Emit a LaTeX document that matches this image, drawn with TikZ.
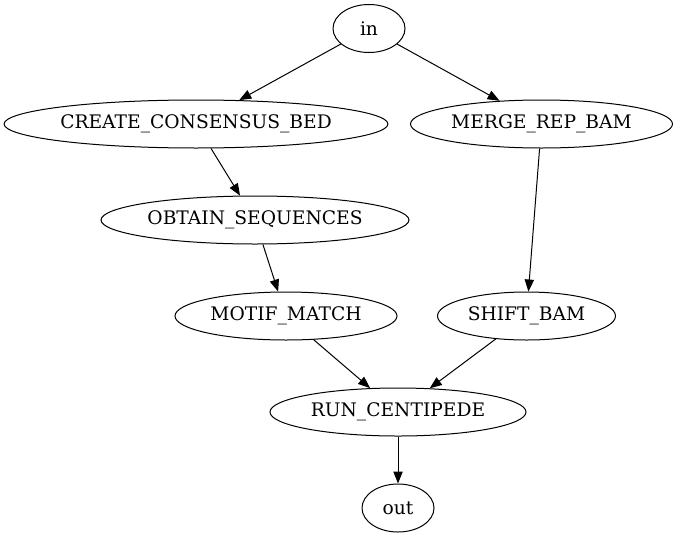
\documentclass[tikz,border=0pt]{standalone}
\usepackage{fontspec}
\setmainfont{DejaVu Serif}
\usetikzlibrary{shapes.geometric,arrows.meta}

\begin{document}
\begin{tikzpicture}[
  x=0.75pt, y=-0.75pt,
  proc/.style={ellipse, draw, line width=0.75pt, minimum width=#1*1.5pt, minimum height=36pt, inner sep=0pt, font=\fontsize{14}{16}\selectfont},
  edge/.style={-{Triangle[length=9pt,width=7pt]}, line width=0.75pt}
]
  \useasboundingbox (0,0) rectangle (680,539);
  \node[proc=36] (in) at (369,28.5) {in};
  \node[proc=191] (ccb) at (196,124) {CREATE\_CONSENSUS\_BED};
  \node[proc=131] (merge) at (541.5,124) {MERGE\_REP\_BAM};
  \node[proc=154] (obtain) at (255,220) {OBTAIN\_SEQUENCES};
  \node[proc=111] (motif) at (286,316) {MOTIF\_MATCH};
  \node[proc=89] (shift) at (526.5,316) {SHIFT\_BAM};
  \node[proc=128] (centipede) at (398,412) {RUN\_CENTIPEDE};
  \node[proc=36] (out) at (398,508) {out};
  \draw[edge] (in) -- (ccb);
  \draw[edge] (in) -- (merge);
  \draw[edge] (ccb) -- (obtain);
  \draw[edge] (obtain) -- (motif);
  \draw[edge] (merge) -- (shift);
  \draw[edge] (motif) -- (centipede);
  \draw[edge] (shift) -- (centipede);
  \draw[edge] (centipede) -- (out);
\end{tikzpicture}
\end{document}
